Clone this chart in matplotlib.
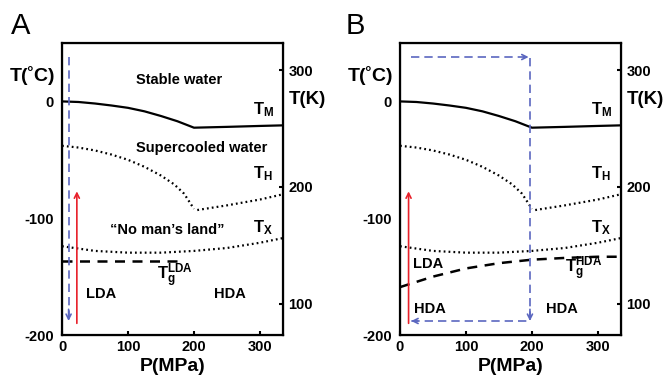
import matplotlib.pyplot as plt
import numpy as np

plt.rcParams['font.family'] = ['Liberation Sans', 'DejaVu Sans']
plt.rcParams['font.weight'] = 'bold'
plt.rcParams['axes.labelweight'] = 'bold'
plt.rcParams['axes.unicode_minus'] = False
plt.rcParams['mathtext.fontset'] = 'custom'
plt.rcParams['mathtext.bf'] = 'Liberation Sans:bold'
plt.rcParams['mathtext.rm'] = 'Liberation Sans:bold'

# melting line T_M (deg C vs MPa)
p_melt = [0, 25, 50, 75, 100, 125, 150, 175, 200, 250, 300, 335]
t_melt = [0, -0.5, -1.8, -3.5, -5.5, -8.5, -12.5, -17, -22.5, -21.8, -21, -20.5]

# homogeneous nucleation T_H, two branches
p_hom1 = [0, 25, 50, 75, 100, 125, 150, 170, 185, 200]
t_hom1 = [-38, -39.5, -42, -45.5, -50, -56, -63.5, -71, -79, -92]
p_hom2 = [205, 250, 300, 335]
t_hom2 = [-93, -89, -84, -79.5]

# crystallization T_X
p_x = [0, 50, 100, 150, 200, 250, 300, 335]
t_x = [-124, -128, -129.5, -129.5, -128, -125.5, -121, -117]

# glass transitions
p_lda = [0, 176]
t_lda = [-136.7, -136.7]
p_hda = [0, 50, 100, 150, 200, 250, 300, 335]
t_hda = [-159, -150, -143, -138.5, -135.5, -134, -133, -133]

# experimental paths
path_a_p = [10, 10]
path_a_t = [38, -188]
path_b_p = [16, 197, 197, 17]
path_b_t = [38, 38, -188, -188]
red_a = (22.5, -190, -77)
red_b = (13, -190, -77)

blue = '#5b67c0'
red = '#e8202a'

fig = plt.figure(figsize=(6.66, 3.83), dpi=100)
ax_a = fig.add_axes([0.0931, 0.1253, 0.3319, 0.7624])
ax_b = fig.add_axes([0.6006, 0.1253, 0.3318, 0.7624])


def base(ax):
    ax.plot(p_melt, t_melt, color='black', lw=1.6)
    ax.plot(p_hom1, t_hom1, color='black', lw=1.6, linestyle=(0, (0.8, 1.4)))
    ax.plot(p_hom2, t_hom2, color='black', lw=1.6, linestyle=(0, (0.8, 1.4)))
    ax.plot(p_x, t_x, color='black', lw=1.6, linestyle=(0, (0.8, 1.4)))
    ax.set_xlim(0, 335)
    ax.set_ylim(-200, 50)
    ax.set_xticks([0, 100, 200, 300])
    ax.set_yticks([-200, -100, 0])
    ax.tick_params(direction='in', length=3, width=1.5, labelsize=10.5)
    ax.tick_params(axis='y', length=0, pad=6)
    for s in ax.spines.values():
        s.set_linewidth(1.6)
    tw = ax.twinx()
    tw.set_ylim(-200 + 273.15, 50 + 273.15)
    tw.set_yticks([100, 200, 300])
    tw.tick_params(direction='in', length=3, width=1.5, labelsize=10.5, pad=4)
    ax.set_xlabel('P(MPa)', fontsize=14, labelpad=3)
    ax.text(-0.135, 0.89, 'T(˚C)', transform=ax.transAxes, fontsize=14,
            ha='center', va='center')
    ax.text(1.025, 0.805, 'T(K)', transform=ax.transAxes, fontsize=13.5,
            ha='left', va='center')
    ax.text(305, -7, r'$\mathbf{T_M}$', fontsize=12, ha='center', va='center')
    ax.text(305, -62, r'$\mathbf{T_H}$', fontsize=12, ha='center', va='center')
    ax.text(305, -108, r'$\mathbf{T_X}$', fontsize=12, ha='center', va='center')


def arrow_head(ax, x0, y0, x1, y1, color):
    ax.annotate('', xy=(x1, y1), xytext=(x0, y0),
                arrowprops=dict(arrowstyle='->', color=color, lw=1.2,
                                mutation_scale=9, shrinkA=0, shrinkB=0))


# panel A
base(ax_a)
ax_a.plot(p_lda, t_lda, color='black', lw=1.8, linestyle=(0, (4, 3)))
ax_a.plot(path_a_p, path_a_t, color=blue, lw=1.2, linestyle=(0, (5, 3)))
arrow_head(ax_a, path_a_p[0], path_a_t[1] + 10, path_a_p[1], path_a_t[1], blue)
arrow_head(ax_a, red_a[0], red_a[1], red_a[0], red_a[2], red)
ax_a.text(178, 18, 'Stable water', fontsize=10.5, ha='center', va='center')
ax_a.text(212, -39.5, 'Supercooled water', fontsize=10.5, ha='center', va='center')
ax_a.text(159, -110, '\u201cNo man\u2019s land\u201d', fontsize=10.5, ha='center', va='center')
ax_a.text(171, -149, r'$\mathbf{T_g^{LDA}}$', fontsize=12, ha='center', va='center')
ax_a.text(60, -165, 'LDA', fontsize=10.5, ha='center', va='center')
ax_a.text(255, -165, 'HDA', fontsize=10.5, ha='center', va='center')
fig.text(0.016, 0.932, 'A', fontsize=21, fontweight='normal', va='center')

# panel B
base(ax_b)
ax_b.plot(p_hda, t_hda, color='black', lw=1.8, linestyle=(0, (4, 3)))
ax_b.plot(path_b_p, path_b_t, color=blue, lw=1.2, linestyle=(0, (5, 3)))
arrow_head(ax_b, path_b_p[1] - 10, path_b_t[0], path_b_p[1] - 2, path_b_t[0], blue)
arrow_head(ax_b, path_b_p[1], path_b_t[2] + 10, path_b_p[2], path_b_t[2], blue)
arrow_head(ax_b, path_b_p[3] + 10, path_b_t[3], path_b_p[3], path_b_t[3], blue)
arrow_head(ax_b, red_b[0], red_b[1], red_b[0], red_b[2], red)
ax_b.text(278, -143, r'$\mathbf{T_g^{HDA}}$', fontsize=12, ha='center', va='center')
ax_b.text(42, -139, 'LDA', fontsize=10.5, ha='center', va='center')
ax_b.text(45, -178, 'HDA', fontsize=10.5, ha='center', va='center')
ax_b.text(246, -178, 'HDA', fontsize=10.5, ha='center', va='center')
fig.text(0.519, 0.932, 'B', fontsize=21, fontweight='normal', va='center')

fig.savefig('out.png', dpi=100)
